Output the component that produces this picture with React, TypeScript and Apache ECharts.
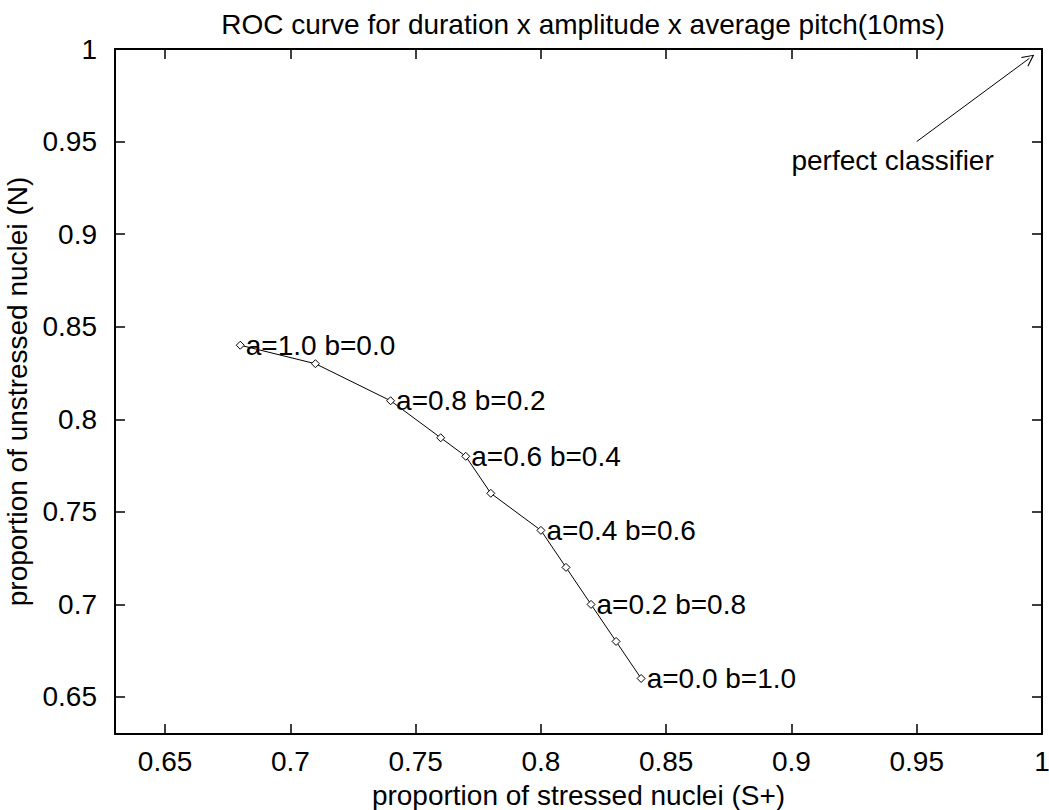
import React, { useEffect, useRef } from "react";
import * as echarts from "echarts";

const xValues = [0.68, 0.71, 0.74, 0.76, 0.77, 0.78, 0.8, 0.81, 0.82, 0.83, 0.84];
const yValues = [0.84, 0.83, 0.81, 0.79, 0.78, 0.76, 0.74, 0.72, 0.7, 0.68, 0.66];
const pointLabels = [
  "a=1.0 b=0.0", "", "a=0.8 b=0.2", "", "a=0.6 b=0.4", "",
  "a=0.4 b=0.6", "", "a=0.2 b=0.8", "", "a=0.0 b=1.0",
];
const tickValues = [0.65, 0.7, 0.75, 0.8, 0.85, 0.9, 0.95, 1];
const arrowFrom = [0.95, 0.95];
const arrowTo = [0.995, 0.995];
const annotationPos = [0.9, 0.94];
const annotationText = "perfect classifier";

const FONT = "'Liberation Sans', Arial, Helvetica, sans-serif";
const FS = 28;

export default function App() {
  const ref = useRef<HTMLDivElement>(null);
  useEffect(() => {
    if (!ref.current) return;
    const chart = echarts.init(ref.current, null, { renderer: "svg" });
    const axisCommon = {
      type: "value",
      min: 0.63,
      max: 1.0,
      splitLine: { show: false },
      axisLine: { show: true, lineStyle: { color: "#000", width: 2 } },
      axisTick: {
        show: true,
        inside: true,
        length: 10,
        customValues: tickValues,
        lineStyle: { color: "#000", width: 1.5 },
      },
    };
    const data = xValues.map((x, i) => [x, yValues[i]]);
    chart.setOption({
      animation: false,
      backgroundColor: "#fff",
      title: {
        text: "ROC curve for duration x amplitude x average pitch(10ms)",
        left: 578,
        textAlign: "center",
        top: 5,
        textStyle: { fontFamily: FONT, fontSize: FS, fontWeight: "normal", color: "#000" },
      },
      grid: {
        left: 115,
        right: 7,
        top: 49,
        bottom: 76,
        containLabel: false,
        outerBoundsMode: "none",
      },
      xAxis: [
        {
          ...axisCommon,
          position: "bottom",
          name: "proportion of stressed nuclei (S+)",
          nameLocation: "middle",
          nameGap: 47,
          nameTextStyle: { fontFamily: FONT, fontSize: FS, color: "#000" },
          axisLabel: {
            customValues: tickValues,
            margin: 13,
            fontFamily: FONT,
            fontSize: FS,
            color: "#000",
          },
        },
        {
          ...axisCommon,
          position: "top",
          axisLabel: { show: false },
        },
      ],
      yAxis: [
        {
          ...axisCommon,
          position: "left",
          name: "proportion of unstressed nuclei (N)",
          nameLocation: "middle",
          nameRotate: 90,
          nameGap: 80,
          nameTextStyle: { fontFamily: FONT, fontSize: FS, color: "#000" },
          axisLabel: {
            customValues: tickValues,
            margin: 18,
            fontFamily: FONT,
            fontSize: FS,
            color: "#000",
          },
        },
        {
          ...axisCommon,
          position: "right",
          axisLabel: { show: false },
        },
      ],
      series: [
        {
          type: "line",
          data,
          symbol: "diamond",
          symbolSize: 8,
          showAllSymbol: true,
          lineStyle: { color: "#000", width: 1 },
          itemStyle: { color: "#fff", borderColor: "#000", borderWidth: 1 },
          label: {
            show: true,
            position: "right",
            distance: 1,
            formatter: (p: any) => pointLabels[p.dataIndex],
            fontFamily: FONT,
            fontSize: FS,
            color: "#000",
          },
          markLine: {
            silent: true,
            symbol: ["none", "path://M0,10 L5,0 L10,10 L9,10 L5,2 L1,10 Z"],
            symbolSize: [12, 12],
            label: { show: false },
            lineStyle: { color: "#000", width: 1, type: "solid" },
            data: [[{ coord: arrowFrom }, { coord: arrowTo }]],
          },
        },
        {
          type: "scatter",
          data: [annotationPos],
          symbolSize: 0,
          silent: true,
          itemStyle: { opacity: 1, color: "#000" },
          label: {
            show: true,
            position: "right",
            distance: 0,
            formatter: annotationText,
            fontFamily: FONT,
            fontSize: FS,
            color: "#000",
            opacity: 1,
          },
        },
      ],
    });
    return () => chart.dispose();
  }, []);
  return (
    <div
      ref={ref}
      style={{ position: "fixed", left: 0, top: 0, width: 1049, height: 810 }}
    />
  );
}
